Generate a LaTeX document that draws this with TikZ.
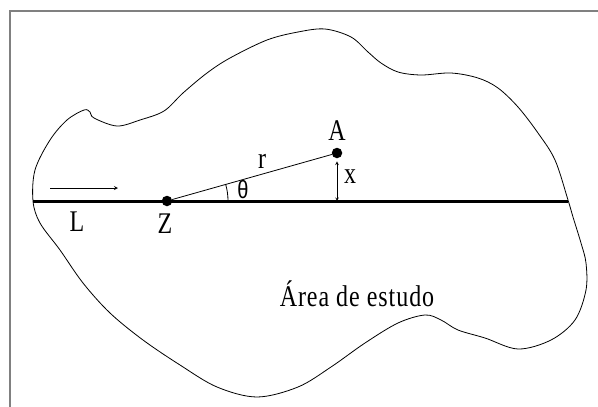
\documentclass[tikz,border=0pt]{standalone}
\usepackage{fontspec}
\setmainfont{Liberation Serif}
\newfontfamily\greekfont{Liberation Sans}
\usepackage{graphicx}
\usepackage{tikz}
\usetikzlibrary{calc}
\tikzset{every node/.append style={font=\fontsize{24}{28}\selectfont}}
\tikzset{dot/.style={circle, fill, inner sep=0pt, minimum size=10.5pt}}
\newcommand{\tallbox}[1]{\scalebox{1}[1.25]{#1}}

\begin{document}
\begin{tikzpicture}[x=1pt, y=-1pt, >=stealth]
    \useasboundingbox (0,0) rectangle (598,407);
    % frame round the figure
    \draw[gray, line width=1.8pt] (10,407) -- (10,11) -- (598,11);
    % the study area
    \draw[line width=0.8pt] plot[smooth cycle, tension=0.55] coordinates {
        (33,201) (35,170) (50,140) (67,120) (84,110) (90,112) (94,118)
        (117,126) (140,120) (164,111) (183,93) (207,73) (230,58) (267,40)
        (298,32) (325,29) (351,37) (368,52) (381,63) (398,72) (421,75)
        (451,73) (478,78) (498,88) (518,107) (538,133) (555,160) (568,200)
        (573,217) (581,243) (586,263) (586,290) (575,320) (551,340) (518,349)
        (485,338) (458,330) (441,320) (425,315) (398,323) (365,343) (331,367)
        (298,387) (257,397) (217,387) (180,365) (143,340) (110,313) (83,283)
        (60,250) (40,223)};
    % the line L
    \coordinate (W) at (33,201);
    \coordinate (E) at (568,201);
    \draw[line width=3pt] (W) -- (E);
    \coordinate (L1) at (50,188);
    \coordinate (L2) at (118,188);
    \draw[->, line width=0.8pt] (L1) -- (L2);
    \node (labL) at (77,222) {\tallbox{L}};
    % the points Z and A
    \node[dot] (Z) at (167,201) {};
    \node[dot] (A) at (337,153) {};
    \coordinate (F) at (337,201);
    \draw[line width=0.8pt] (Z) -- (A);
    \draw[<->, line width=0.6pt, shorten <=3pt] (A) -- (F);
    \draw[line width=0.8pt] ($(Z.center)+(61,0)$) arc[start angle=0, end angle=-15.8, radius=61];
    \node (labZ) at (165,224) {\tallbox{Z}};
    \node (labA) at (337,131) {\tallbox{A}};
    \node (labr) at (262,161) {\tallbox{r}};
    \node (labx) at (350,177) {\tallbox{x}};
    \node (labt) at (243,190) {\greekfont\fontsize{20}{22}\selectfont\tallbox{θ}};
    \node (area) at (357,294) {\addfontfeatures{LetterSpace=4}\tallbox{Área de estudo}};
\end{tikzpicture}
\end{document}
